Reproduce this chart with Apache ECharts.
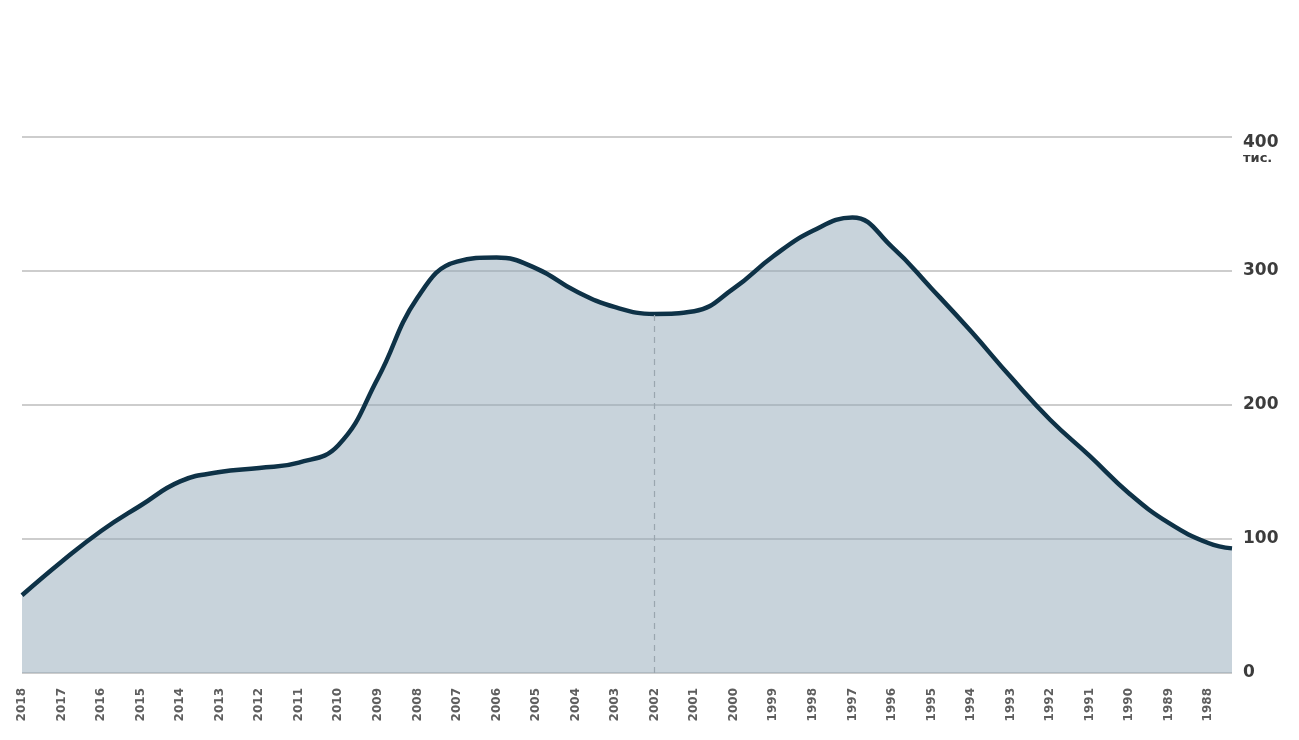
<!DOCTYPE html>
<html>
<head>
<meta charset="utf-8">
<script src="https://cdn.jsdelivr.net/npm/echarts@6/dist/echarts.min.js"></script>
<style>
html,body{margin:0;padding:0;background:#fff;}
#chart{width:1299px;height:740px;}
</style>
</head>
<body>
<div id="chart"></div>
<script>
var years = [2018,2017,2016,2015,2014,2013,2012,2011,2010,2009,2008,2007,2006,2005,2004,2003,2002,2001,2000,1999,1998,1997,1996,1995,1994,1993,1992,1991,1990,1989,1988];
var values = [58,83,106,125,143,150,153,157,170,220,280,307,310,302,285,273,268,270,287,311,330,340,318,287,255,221,189,162,134,112,97];
var tailYear = 1987.4;
var tailValue = 93;
var yTicks = [0,100,200,300,400];
var yUnit = 'тис.';
var markYear = 2002;

var seriesData = years.map(function(y,i){return [y, values[i]];});
seriesData.push([tailYear, tailValue]);
var markValue = values[years.indexOf(markYear)];

var chart = echarts.init(document.getElementById('chart'));
chart.setOption({
  animation:false,
  backgroundColor:'#ffffff',
  grid:{left:22, right:67, top:137, bottom:67, containLabel:false},
  xAxis:{
    type:'value', inverse:true, min:tailYear, max:years[0],
    axisLine:{show:false}, axisTick:{show:false}, splitLine:{show:false},
    axisLabel:{
      customValues: years,
      rotate:90, margin:15,
      color:'#5e5e5e', fontFamily:'DejaVu Sans', fontWeight:'bold', fontSize:12,
      formatter:function(v){return String(v);}
    }
  },
  yAxis:{
    type:'value', position:'right', min:yTicks[0], max:yTicks[yTicks.length-1], interval:100,
    axisLine:{show:false}, axisTick:{show:false},
    splitLine:{show:true, lineStyle:{color:'#bdbdbd', width:1.5}},
    axisLabel:{
      margin:11, color:'#3c3c3c', fontFamily:'DejaVu Sans', fontWeight:'bold', fontSize:17,
      formatter:function(v){
        if(v===yTicks[yTicks.length-1]) return '{s| }\n{a|'+v+'}\n{b|'+yUnit+'}';
        return '{a|'+v+'}';
      },
      rich:{
        s:{lineHeight:26, fontSize:10},
        a:{fontFamily:'DejaVu Sans', fontWeight:'bold', fontSize:17, color:'#3c3c3c', lineHeight:18},
        b:{fontFamily:'DejaVu Sans', fontWeight:'bold', fontSize:13, color:'#3c3c3c', lineHeight:15}
      }
    }
  },
  series:[{
    type:'line',
    data:seriesData,
    smooth:0.45,
    showSymbol:false,
    symbol:'none',
    lineStyle:{color:'#0e3247', width:4.5},
    areaStyle:{color:'#91a7b7', opacity:0.5},
    markLine:{
      silent:true, symbol:'none', label:{show:false},
      lineStyle:{color:'#9aa6af', type:[6,5], width:1.2},
      data:[[{coord:[markYear,0]},{coord:[markYear,markValue]}]]
    }
  }]
});
</script>
</body>
</html>
